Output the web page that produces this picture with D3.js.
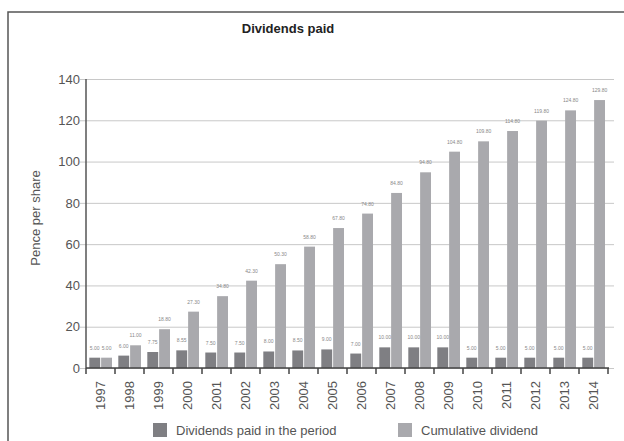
<!DOCTYPE html>
<html>
<head>
<meta charset="utf-8">
<script src="https://cdn.jsdelivr.net/npm/d3@7"></script>
<style>
  body { margin: 0; background: #fff; }
  text { font-family: "Liberation Sans", Arial, sans-serif; }
</style>
</head>
<body>
<div id="chart"></div>
<script>
// data
const years = ["1997","1998","1999","2000","2001","2002","2003","2004","2005","2006","2007","2008","2009","2010","2011","2012","2013","2014"];
const paidInPeriod = [5.00, 6.00, 7.75, 8.55, 7.50, 7.50, 8.00, 8.50, 9.00, 7.00, 10.00, 10.00, 10.00, 5.00, 5.00, 5.00, 5.00, 5.00];
const cumulative = [5.00, 11.00, 18.80, 27.30, 34.80, 42.30, 50.30, 58.80, 67.80, 74.80, 84.80, 94.80, 104.80, 109.80, 114.80, 119.80, 124.80, 129.80];
const seriesNames = ["Dividends paid in the period", "Cumulative dividend"];
const yTicks = [0, 20, 40, 60, 80, 100, 120, 140];

const colors = d3.scaleOrdinal().domain(seriesNames).range(["#7f7f83", "#a9a9ad"]);

let margin = {top: 79, right: 16, bottom: 73, left: 86},
    W = 624, H = 441,
    width = W - margin.left - margin.right,
    height = H - margin.top - margin.bottom;

const svg = d3.select("#chart").append("svg")
  .attr("width", W).attr("height", H);

// frame
svg.append("path")
  .attr("d", "M8,441 L8,12 L624,12")
  .attr("fill", "none").attr("stroke", "#555").attr("stroke-width", 1.5);

// title
svg.append("text")
  .attr("x", 288).attr("y", 33)
  .attr("text-anchor", "middle")
  .style("font-size", "13px").style("font-weight", "bold")
  .attr("fill", "#222")
  .text("Dividends paid");

const g = svg.append("g").attr("transform", `translate(${margin.left},${margin.top})`);

const x = d3.scaleBand().domain(years).range([0, 522]).paddingInner(0).paddingOuter(0);
const xs = d3.scaleBand().domain(seriesNames).range([3.3, 29 - 3]).paddingInner(0.08);
const y = d3.scaleLinear().domain([0, 140]).range([height, 0]);

// grid + y axis
g.append("g")
  .call(d3.axisLeft(y).tickValues(yTicks).tickSize(-528).tickPadding(6).tickFormat(d3.format("d")))
  .call(a => a.select(".domain").remove())
  .call(a => a.selectAll(".tick line").attr("stroke", "#c8c8c8").attr("stroke-width", 1).attr("x1", -6))
  .call(a => a.selectAll(".tick text").attr("fill", "#555").style("font-size", "13px").style("font-family", "'Liberation Sans', Arial, sans-serif"));

g.append("line")
  .attr("x1", 0).attr("x2", 0).attr("y1", 0).attr("y2", height)
  .attr("stroke", "#555").attr("stroke-width", 1.5);

// bars
const groups = g.selectAll(".year")
  .data(years.map((yr, i) => ({yr, vals: [paidInPeriod[i], cumulative[i]]})))
  .join("g")
  .attr("transform", d => `translate(${x(d.yr)},0)`);

groups.selectAll("rect")
  .data(d => d.vals.map((v, j) => ({name: seriesNames[j], v})))
  .join("rect")
  .attr("x", d => xs(d.name))
  .attr("width", xs.bandwidth())
  .attr("y", d => y(d.v))
  .attr("height", d => height - y(d.v))
  .attr("fill", d => colors(d.name));

groups.selectAll(".lbl")
  .data(d => d.vals.map((v, j) => ({name: seriesNames[j], v})))
  .join("text")
  .attr("class", "lbl")
  .attr("x", d => xs(d.name) + xs.bandwidth() / 2)
  .attr("y", d => y(d.v) - 8)
  .attr("text-anchor", "middle")
  .style("font-size", "5px")
  .attr("fill", "#888")
  .text(d => d.v.toFixed(2));

// x axis
const xAxisEnds = [...years.map(yr => x(yr)), 522];
g.append("g")
  .attr("transform", `translate(0,${height})`)
  .call(d3.axisBottom(x).tickSize(0).tickPadding(0))
  .call(a => a.select(".domain").remove())
  .call(a => a.selectAll(".tick text")
    .attr("transform", "rotate(-90)")
    .attr("text-anchor", "end")
    .attr("x", -13).attr("y", 0).attr("dy", "0.35em")
    .attr("fill", "#555")
    .style("font-size", "13px")
    .style("font-family", "'Liberation Sans', Arial, sans-serif"));

g.append("line")
  .attr("x1", 0).attr("x2", 523).attr("y1", height).attr("y2", height)
  .attr("stroke", "#444").attr("stroke-width", 1.5);

g.selectAll(".xtick")
  .data(xAxisEnds)
  .join("line")
  .attr("x1", d => d).attr("x2", d => d)
  .attr("y1", height).attr("y2", height + 6)
  .attr("stroke", "#444").attr("stroke-width", 1.5);

// y axis title
svg.append("text")
  .attr("transform", "translate(40,218) rotate(-90)")
  .attr("text-anchor", "middle")
  .style("font-size", "13px")
  .attr("fill", "#555")
  .text("Pence per share");

// legend
const legendX = [153, 398];
const legend = svg.selectAll(".legend")
  .data(seriesNames)
  .join("g")
  .attr("transform", (d, i) => `translate(${legendX[i]},423)`);

legend.append("rect")
  .attr("width", 14).attr("height", 14)
  .attr("fill", d => colors(d));

legend.append("text")
  .attr("x", 23).attr("y", 12)
  .style("font-size", "13px")
  .attr("fill", "#555")
  .text(d => d);
</script>
</body>
</html>
